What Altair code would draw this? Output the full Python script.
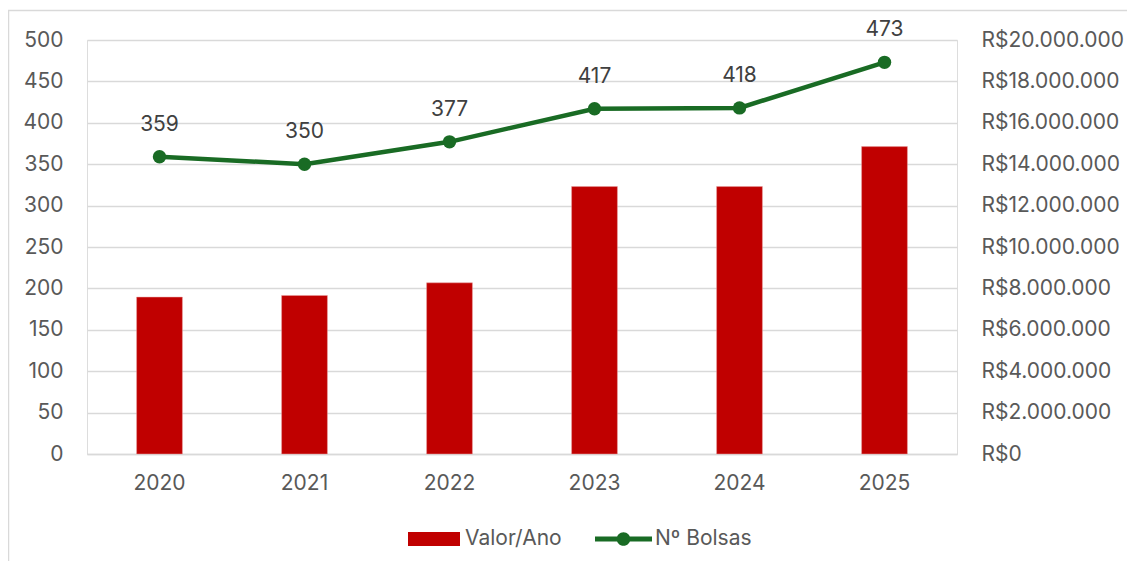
import altair as alt
import pandas as pd

anos = ["2020", "2021", "2022", "2023", "2024", "2025"]
bolsas = [359, 350, 377, 417, 418, 473]
valores = [7580000, 7660000, 8270000, 12920000, 12920000, 14850000]

df = pd.DataFrame({
    "ano": anos,
    "bolsas": bolsas,
    "valor": valores,
    "s1": ["Valor/Ano"] * len(anos),
    "s2": ["Nº Bolsas"] * len(anos),
})

RED = "#C00000"
GREEN = "#196B24"
GRID = "#D9D9D9"
TXT = "#595959"
FONT = "Inter"
FS = 21

xenc = alt.X("ano:N", title=None,
             scale=alt.Scale(paddingInner=0.684, paddingOuter=0.342),
             axis=alt.Axis(labelAngle=0, ticks=False, domain=True, domainColor=GRID,
                           domainWidth=1.5, labelPadding=18, labelFontSize=FS,
                           labelColor=TXT, labelFont=FONT))

bar_legend = alt.Legend(orient="none", legendX=321, legendY=473, title=None,
                        symbolType="M-1,-0.27H1V0.27H-1Z", symbolSize=2704,
                        labelFontSize=FS, labelColor=TXT, labelFont=FONT,
                        labelOffset=5, padding=0, symbolStrokeWidth=0)

line_legend = alt.Legend(orient="none", legendX=508, legendY=470.5, title=None,
                         symbolType="M-1,-0.088H1V0.088H-1Z M0.24,0 A0.24,0.24 0 1 1 -0.24,0 A0.24,0.24 0 1 1 0.24,0Z",
                         symbolSize=3249, labelFontSize=FS, labelColor=TXT, labelFont=FONT,
                         labelOffset=3, padding=0, symbolStrokeWidth=0, symbolOpacity=1)

base = alt.Chart(df)

bars = base.mark_bar(stroke="#E8A0A0", strokeWidth=0.5).encode(
    x=xenc,
    y=alt.Y("valor:Q", title=None,
            scale=alt.Scale(domain=[0, 20000000]),
            axis=alt.Axis(orient="right", grid=False, ticks=False, domain=False,
                          values=list(range(0, 20000001, 2000000)),
                          labelExpr="'R$' + replace(format(datum.value, ',d'), /,/g, '.')",
                          labelFontSize=FS, labelColor=TXT, labelFont=FONT,
                          labelPadding=24, labelAlign="left")),
    color=alt.Color("s1:N", scale=alt.Scale(domain=["Valor/Ano"], range=[RED]),
                    legend=bar_legend),
)

yl = alt.Y("bolsas:Q", title=None,
           scale=alt.Scale(domain=[0, 500]),
           axis=alt.Axis(orient="left", grid=True, gridColor=GRID, gridWidth=1.5,
                         ticks=False, domain=False,
                         values=list(range(0, 501, 50)),
                         labelFontSize=FS, labelColor=TXT, labelFont=FONT,
                         labelPadding=24))

line = base.mark_line(color=GREEN, strokeWidth=4.5, strokeCap="round").encode(
    x=alt.X("ano:N"), y=yl)

points = base.mark_point(filled=True, size=180, opacity=1).encode(
    x=alt.X("ano:N"), y=alt.Y("bolsas:Q"),
    color=alt.Color("s2:N", scale=alt.Scale(domain=["Nº Bolsas"], range=[GREEN]),
                    legend=line_legend),
)

labels = base.mark_text(dy=-32, fontSize=FS, color="#404040", font=FONT).encode(
    x=alt.X("ano:N"), y=alt.Y("bolsas:Q"), text=alt.Text("bolsas:Q"))

line_layer = alt.layer(line, points, labels)

one = pd.DataFrame({"k": [0]})
frame_left = alt.Chart(one).mark_rule(color=GRID, strokeWidth=1.5).encode(
    x=alt.value(-78.5), y=alt.value(-30), y2=alt.value(600))
frame_top = alt.Chart(one).mark_rule(color=GRID, strokeWidth=1.5).encode(
    x=alt.value(-79), x2=alt.value(1200), y=alt.value(-29.5))

chart = alt.layer(bars, line_layer, frame_left, frame_top).resolve_scale(
    y="independent", color="independent"
).properties(
    width=870, height=414,
    padding={"left": 79, "top": 32, "right": 170, "bottom": 107},
    autosize=alt.AutoSizeParams(type="none"),
).configure_view(stroke=None).configure(background="white")

chart.save("out.html", embed_options={"renderer": "svg", "actions": False})
